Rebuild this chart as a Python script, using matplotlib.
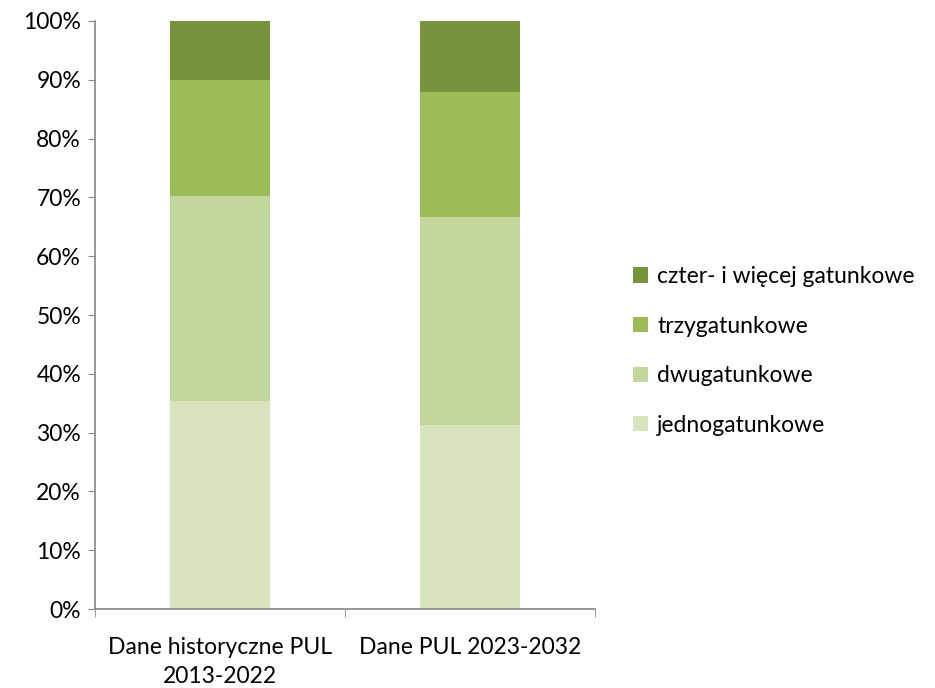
import numpy as np
import matplotlib.pyplot as plt
from matplotlib.patches import Patch
from matplotlib.ticker import FuncFormatter, FixedLocator

plt.rcParams['font.family'] = ['Lato', 'DejaVu Sans']

categories = ['Dane historyczne PUL\n2013-2022', 'Dane PUL 2023-2032']
series_names = ['jednogatunkowe', 'dwugatunkowe', 'trzygatunkowe', 'czter- i więcej gatunkowe']
jedno = [35.4, 31.3]
dwu = [34.9, 35.4]
trzy = [19.7, 21.2]
czter = [10.0, 12.1]
colors = ['#D7E4BD', '#C3D69B', '#9BBB59', '#77933C']

fig = plt.figure(figsize=(9.35, 6.88), dpi=100)
ax = fig.add_axes([0.1016, 0.1148, 0.5348, 0.8547])

x = np.arange(len(categories))
bottom = np.zeros(len(categories))
handles = []
for vals, name, c in zip([jedno, dwu, trzy, czter], series_names, colors):
    ax.bar(x, vals, 0.4, bottom=bottom, color=c, edgecolor='none', label=name)
    bottom += np.array(vals)
    handles.append(Patch(facecolor=c, label=name))

ax.set_xlim(-0.5, 1.5)
ax.set_ylim(0, 100)
ax.set_yticks(np.arange(0, 101, 10))
ax.yaxis.set_major_formatter(FuncFormatter(lambda v, p: f'{int(v)}%'))
ax.set_xticks(x)
ax.set_xticklabels(categories, linespacing=1.5)
ax.xaxis.set_minor_locator(FixedLocator([-0.5, 0.5, 1.5]))
ax.tick_params(axis='x', which='major', length=0, pad=20, labelsize=16.5)
ax.tick_params(axis='x', which='minor', length=6, color='#868686', direction='out')
ax.tick_params(axis='y', length=5, color='#868686', labelsize=16.5, pad=5)
for s in ['top', 'right']:
    ax.spines[s].set_visible(False)
for s in ['left', 'bottom']:
    ax.spines[s].set_color('#868686')
    ax.spines[s].set_linewidth(1.2)

fig.legend(handles=handles[::-1], loc='center left', bbox_to_anchor=(0.655, 0.49),
           frameon=False, fontsize=16.5, handlelength=0.65, handleheight=0.65,
           handletextpad=0.4, labelspacing=1.25)

fig.savefig('out.png', dpi=100)
